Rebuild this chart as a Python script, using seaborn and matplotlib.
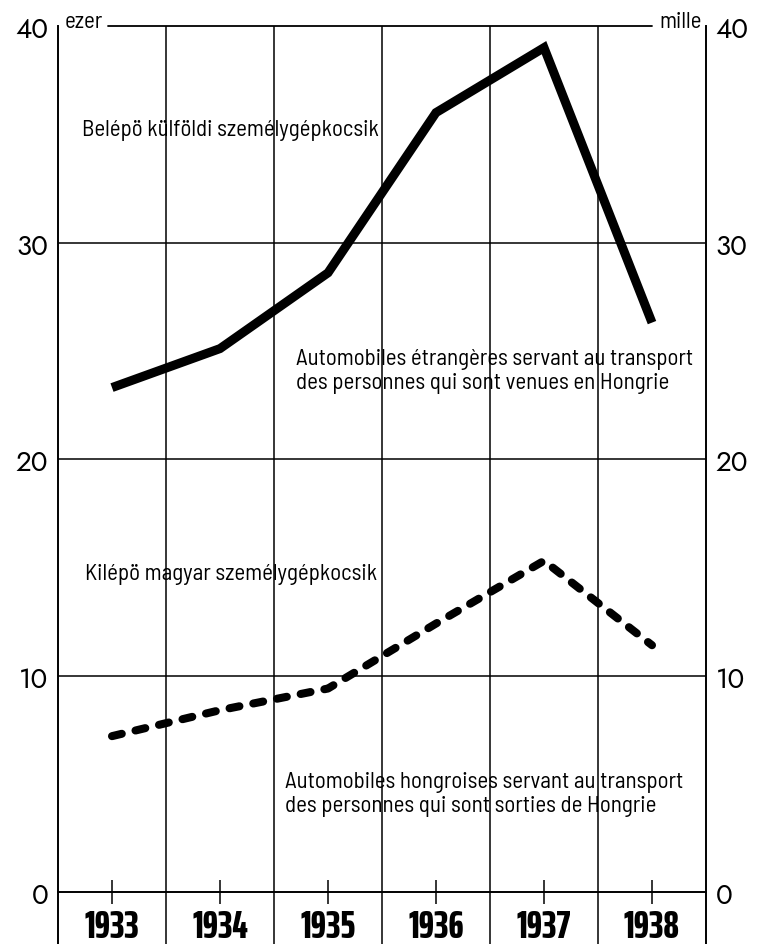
import matplotlib
matplotlib.use("Agg")
import matplotlib.pyplot as plt
import seaborn as sns
import pandas as pd

# ---- data ----
years = [1933, 1934, 1935, 1936, 1937, 1938]
incoming_foreign_cars = [23.3, 25.1, 28.6, 36.0, 39.0, 26.3]   # thousand
outgoing_hungarian_cars = [7.2, 8.4, 9.4, 12.4, 15.3, 11.4]    # thousand
y_ticks = [0, 10, 20, 30, 40]
y_tick_labels = ["0", "10", "20", "30", "40"]
year_labels = [str(y) for y in years]

label_in_hu = "Belépö külföldi személygépkocsik"
label_in_fr = "Automobiles étrangères servant au transport\ndes personnes qui sont venues en Hongrie"
label_out_hu = "Kilépö magyar személygépkocsik"
label_out_fr = "Automobiles hongroises servant au transport\ndes personnes qui sont sorties de Hongrie"
unit_left = "ezer"
unit_right = "mille"

df = pd.DataFrame({
    "year": years * 2,
    "value": incoming_foreign_cars + outgoing_hungarian_cars,
    "series": ["in"] * len(years) + ["out"] * len(years),
})

sns.set_style("white")
plt.rcParams["font.family"] = ["Barlow Semi Condensed", "Roboto Condensed", "DejaVu Sans"]
plt.rcParams["text.color"] = "black"
plt.rcParams["xtick.color"] = "black"
plt.rcParams["ytick.color"] = "black"

W, H = 760, 945
fig = plt.figure(figsize=(W / 100, H / 100), dpi=100)
ax = fig.add_axes([58 / W, 0, 648 / W, (H - 27) / H])
ax.set_xlim(1932.5, 1938.5)
ax.set_ylim(-2.40, 40)

# lines
sns.lineplot(data=df[df.series == "in"], x="year", y="value", ax=ax,
             color="black", lw=6.5, solid_joinstyle="miter", solid_capstyle="butt", zorder=5)
sns.lineplot(data=df[df.series == "out"], x="year", y="value", ax=ax,
             color="black", lw=5.8, zorder=5)
ax.lines[-1].set_dashes((1.25, 1.75))
ax.lines[-1].set_dash_capstyle("round")

# grid
for v in y_ticks[1:-1]:
    ax.axhline(v, color="black", lw=1.1, zorder=1)
ax.plot([1932.96, 1938.0], [40, 40], color="black", lw=1.3, clip_on=False, zorder=1)
ax.set_xticks([y + 0.5 for y in years[:-1]], minor=True)
ax.grid(which="minor", axis="x", color="black", lw=1.1)
ax.grid(which="major", visible=False)

# spines
ax.spines["top"].set_visible(False)
ax.spines["bottom"].set_position(("data", 0))
for s in ["left", "right", "bottom"]:
    ax.spines[s].set_color("black")
    ax.spines[s].set_linewidth(1.4)

# x ticks
ax.set_xticks(years)
ax.set_xticklabels(year_labels)
for t in ax.get_xticklabels():
    t.set_fontfamily(["Saira ExtraCondensed", "DejaVu Sans"])
    t.set_fontweight(800)
    t.set_fontsize(28)
ax.tick_params(axis="x", which="major", bottom=True, direction="inout", length=17, width=1.1,
               color="black", pad=3)
ax.tick_params(axis="x", which="minor", bottom=False, length=0)

# y ticks both sides
ax.set_yticks(y_ticks)
ax.set_yticklabels(y_tick_labels)
ax.tick_params(axis="y", length=0, left=False, right=False, labelleft=True, labelright=True, pad=7)
for tk in ax.yaxis.get_major_ticks():
    for lab in (tk.label1, tk.label2):
        lab.set_fontfamily(["Jost", "DejaVu Sans"])
        lab.set_fontsize(20)
ax.set_xlabel("")
ax.set_ylabel("")
if ax.get_legend():
    ax.get_legend().remove()

# unit labels
ax.text(1932.56, 40.2, unit_left, fontsize=16.5, ha="left", va="center")
ax.text(1938.46, 40.2, unit_right, fontsize=16.5, ha="right", va="center")

# annotations
fs = 16.5
ax.text(1932.72, 35.2, label_in_hu, fontsize=fs, ha="left", va="center")
ax.text(1934.70, 24.1, label_in_fr, fontsize=fs, ha="left", va="center", linespacing=1.2)
ax.text(1932.75, 14.73, label_out_hu, fontsize=fs, ha="left", va="center")
ax.text(1934.60, 4.55, label_out_fr, fontsize=fs, ha="left", va="center", linespacing=1.2)

fig.savefig("out.png", dpi=100)
